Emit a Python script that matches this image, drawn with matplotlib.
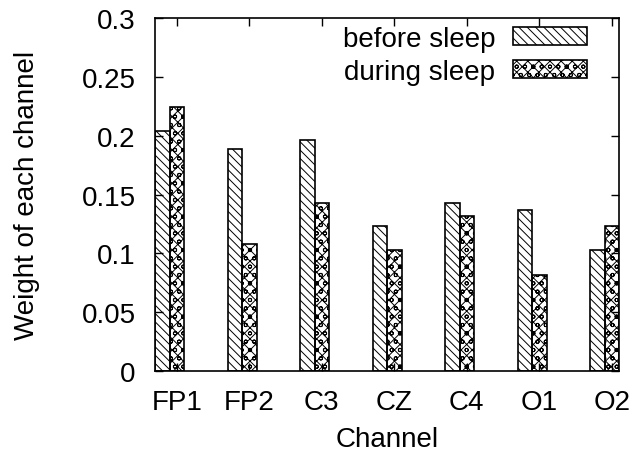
import matplotlib.pyplot as plt
import numpy as np

channels = ["FP1", "FP2", "C3", "CZ", "C4", "O1", "O2"]
before_sleep = [0.204, 0.189, 0.196, 0.123, 0.143, 0.137, 0.103]
during_sleep = [0.224, 0.108, 0.143, 0.103, 0.132, 0.082, 0.123]

plt.rcParams["font.family"] = ["Liberation Sans", "DejaVu Sans"]
plt.rcParams["hatch.linewidth"] = 0.7

fig = plt.figure(figsize=(6.32, 4.56), dpi=100)
ax = fig.add_axes([155 / 632, 84 / 456, 464 / 632, 353 / 456])

x = np.arange(len(channels))
width = 0.2
ax.bar(x - 0.2, before_sleep, width, fill=False, hatch="\\\\\\\\",
       edgecolor="black", linewidth=1.2, label="before sleep")
ax.bar(x, during_sleep, width, fill=False, hatch="xxxoo",
       edgecolor="black", linewidth=1.2, label="during sleep")

ax.set_xlim(-0.3, 6.1)
ax.set_ylim(0, 0.3)
ax.set_xticks(x)
ax.set_xticklabels(channels)
ax.set_yticks(np.arange(0, 0.31, 0.05))
ax.set_yticklabels(["0", "0.05", "0.1", "0.15", "0.2", "0.25", "0.3"])
ax.tick_params(direction="in", top=True, right=True, labelsize=20, length=6, width=1)
ax.tick_params(axis="y", pad=14)
ax.tick_params(axis="x", pad=13)
for s in ax.spines.values():
    s.set_linewidth(1.2)

ax.set_xlabel("Channel", fontsize=20, labelpad=8)
ax.set_ylabel("Weight of each channel", fontsize=20, labelpad=30)

ax.legend(loc="upper right", frameon=False, markerfirst=False, fontsize=20,
          handlelength=2.66, handleheight=0.6, labelspacing=0.25,
          bbox_to_anchor=(0.931, 0.978), handletextpad=0.65,
          borderaxespad=0, borderpad=0)

fig.savefig("out.png", dpi=100)
